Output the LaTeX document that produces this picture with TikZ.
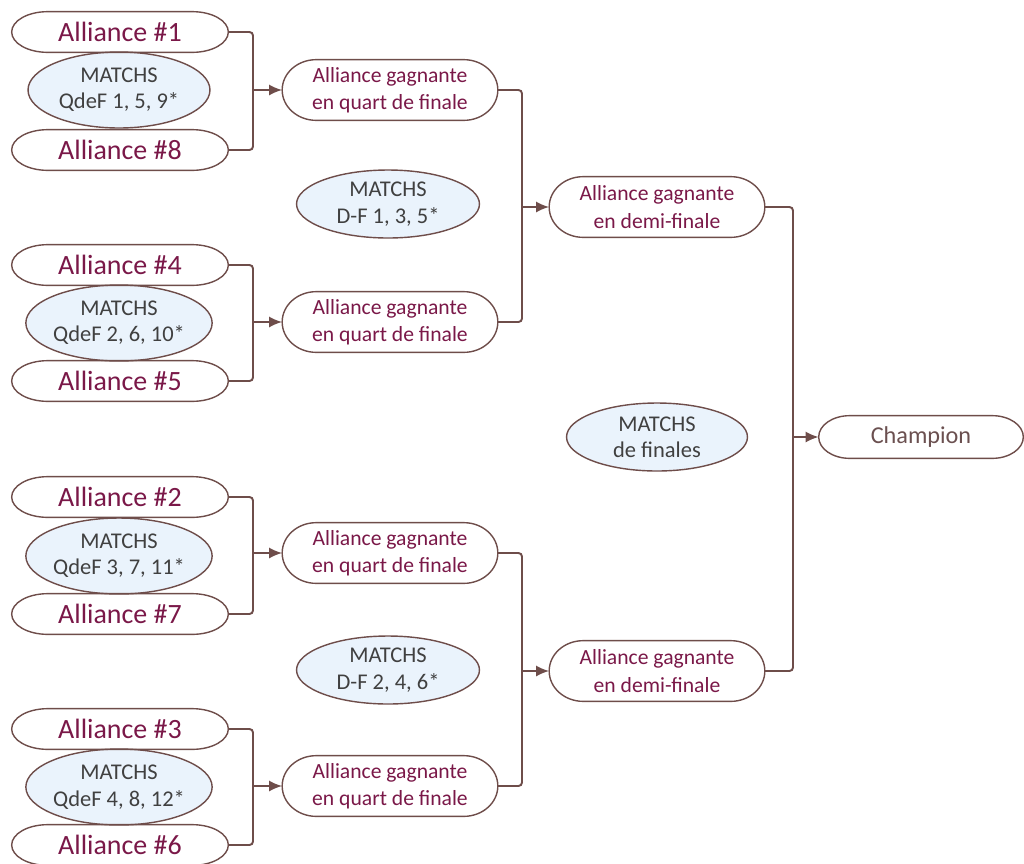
\documentclass[tikz,border=0pt]{standalone}
\usepackage{fontspec}
\setmainfont{Carlito}
\usetikzlibrary{arrows.meta, calc, shapes.geometric, shapes.misc, positioning}
\definecolor{lien}{HTML}{6E4D4A}
\definecolor{bordeaux}{HTML}{7A1848}
\definecolor{bleupale}{HTML}{EAF3FC}
\definecolor{grisfonce}{HTML}{404040}
\definecolor{grisbrun}{HTML}{6B5050}

% contour a bouts elliptiques autour d'un noeud
\newcommand\stade[2]{%
  \draw[contour] let \p1=(#1.north), \p2=(#1.south), \p3=(#1.west), \p4=(#1.east), \n1={(\y1-\y2)/2} in
    (\x3+#2,\y1) -- (\x4-#2,\y1) arc[start angle=90, end angle=-90, x radius=#2, y radius=\n1]
    -- (\x3+#2,\y2) arc[start angle=270, end angle=90, x radius=#2, y radius=\n1] -- cycle;}

\begin{document}
\begin{tikzpicture}[
    x=0.02cm, y=-0.02cm,
    % Styles
    alliance/.style={rounded rectangle, minimum width=4.32cm, minimum height=0.8cm, inner sep=0pt, text=bordeaux, font=\fontsize{15.9}{18}\selectfont},
    matchs/.style={ellipse, draw=lien, line width=0.8pt, fill=bleupale, minimum width=3.64cm, minimum height=1.52cm, inner sep=0pt, align=center, text=grisfonce, font=\fontsize{12.8}{15}\selectfont},
    gagnant/.style={rounded rectangle, minimum width=4.3cm, minimum height=1.2cm, inner sep=0pt, align=center, text=bordeaux, font=\fontsize{12.3}{15.5}\selectfont},
    champion/.style={rounded rectangle, minimum width=4.08cm, minimum height=0.84cm, inner sep=0pt, text=grisbrun, font=\fontsize{13.8}{16}\selectfont},
    contour/.style={draw=lien, line width=0.8pt},
    wire/.style={draw=lien, line width=1.1pt, rounded corners=2pt},
    arrow/.style={wire, -{Latex[length=0.26cm, width=0.22cm]}}
]
\useasboundingbox (0,0) rectangle (1024,863);

% QUARTS DE FINALE
\node[alliance] (a1) at (120,32) {Alliance \#1};
\node[matchs] (m1) at (119,90) {MATCHS\\QdeF 1, 5, 9*};
\node[alliance] (a8) at (120,150) {Alliance \#8};

\node[alliance] (a4) at (120,265) {Alliance \#4};
\node[matchs] (m2) at (119,323) {MATCHS\\QdeF 2, 6, 10*};
\node[alliance] (a5) at (120,381) {Alliance \#5};

\node[alliance] (a2) at (120,497) {Alliance \#2};
\node[matchs] (m3) at (119,556) {MATCHS\\QdeF 3, 7, 11*};
\node[alliance] (a7) at (120,614) {Alliance \#7};

\node[alliance] (a3) at (120,729) {Alliance \#3};
\node[matchs] (m4) at (119,787) {MATCHS\\QdeF 4, 8, 12*};
\node[alliance] (a6) at (120,845) {Alliance \#6};

\node[gagnant] (q1) at (390,90) {Alliance gagnante\\en quart de finale};
\node[gagnant] (q2) at (390,322) {Alliance gagnante\\en quart de finale};
\node[gagnant] (q3) at (390,553) {Alliance gagnante\\en quart de finale};
\node[gagnant] (q4) at (390,786) {Alliance gagnante\\en quart de finale};

% DEMI-FINALES
\node[matchs, minimum width=3.66cm, minimum height=1.36cm] (df1) at (388,204) {MATCHS\\D-F 1, 3, 5*};
\node[matchs, minimum width=3.66cm, minimum height=1.36cm] (df2) at (388,670) {MATCHS\\D-F 2, 4, 6*};

\node[gagnant] (d1) at (657,207) {Alliance gagnante\\en demi-finale};
\node[gagnant] (d2) at (657,671) {Alliance gagnante\\en demi-finale};

% FINALE
\node[matchs, minimum width=3.62cm, minimum height=1.36cm] (fin) at (657,437) {MATCHS\\de finales};
\node[champion] (champ) at (921,437) {Champion};

% CONTOURS
\foreach \nom in {a1,a8,a4,a5,a2,a7,a3,a6} {\stade{\nom}{0.72cm}}
\foreach \nom in {q1,q2,q3,q4,d1,d2} {\stade{\nom}{0.68cm}}
\stade{champ}{0.62cm}

% JONCTIONS
\coordinate (j1) at (253,90);
\coordinate (j2) at (253,322);
\coordinate (j3) at (253,553);
\coordinate (j4) at (253,786);
\coordinate (k1) at (522,207);
\coordinate (k2) at (522,671);
\coordinate (c) at (793,437);

% CONNECTING ARROWS
\draw[wire] (a1) -| (j1) |- (a8);
\draw[wire] (a4) -| (j2) |- (a5);
\draw[wire] (a2) -| (j3) |- (a7);
\draw[wire] (a3) -| (j4) |- (a6);
\draw[arrow] (j1) -- (q1);
\draw[arrow] (j2) -- (q2);
\draw[arrow] (j3) -- (q3);
\draw[arrow] (j4) -- (q4);

\draw[wire] (q1) -| (k1) |- (q2);
\draw[wire] (q3) -| (k2) |- (q4);
\draw[arrow] (k1) -- (d1);
\draw[arrow] (k2) -- (d2);

\draw[wire] (d1) -| (c) |- (d2);
\draw[arrow] (c) -- (champ);

\end{tikzpicture}
\end{document}
